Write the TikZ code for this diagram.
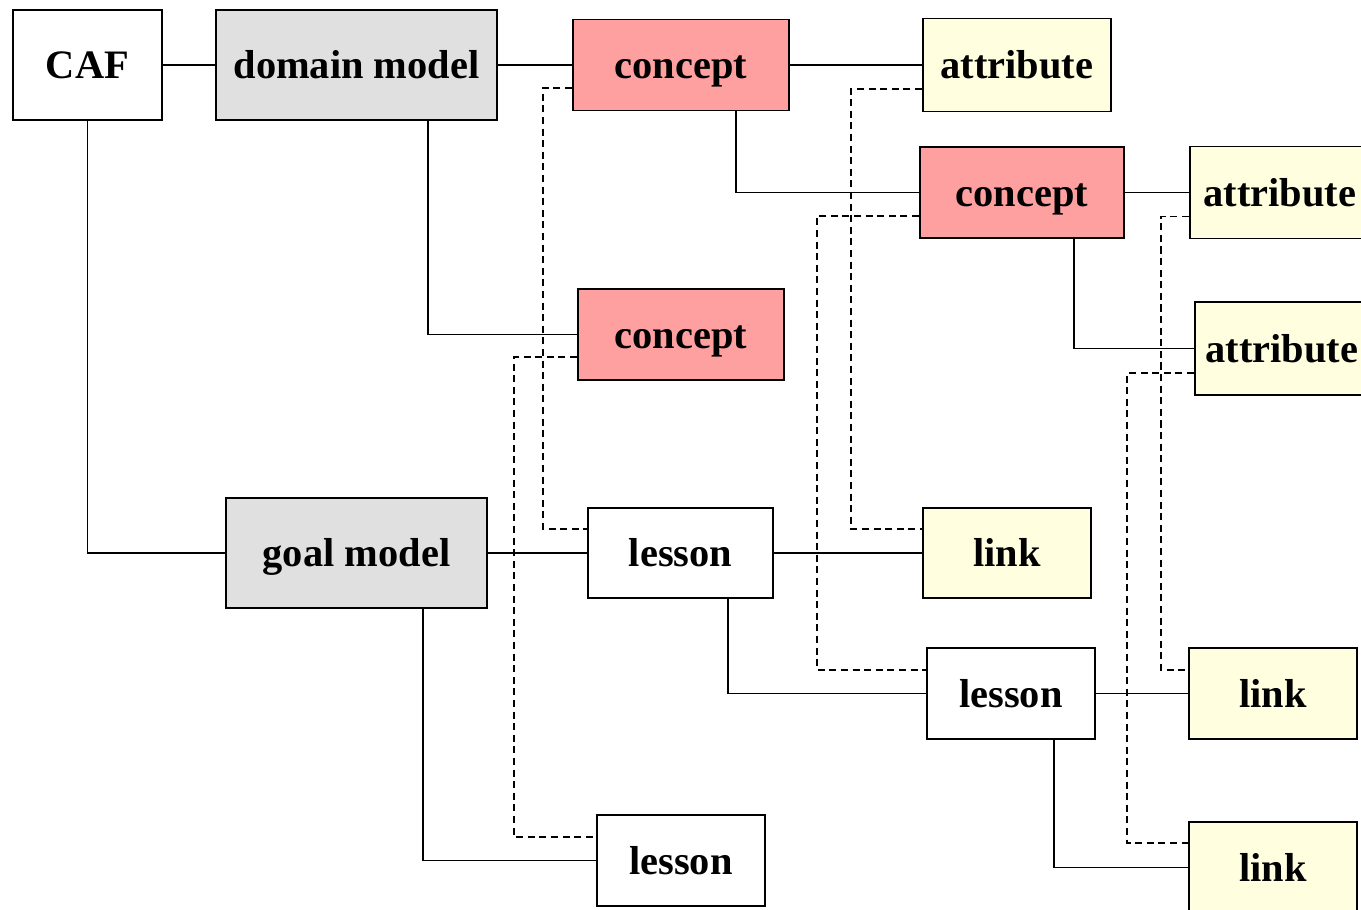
\documentclass[tikz,border=0pt]{standalone}
\usepackage{fontspec}
\setmainfont{Liberation Serif}
\usepackage{tikz}
\definecolor{ModelGray}{RGB}{224, 224, 224}
\definecolor{ConceptRed}{RGB}{255, 160, 160}
\definecolor{AttrYellow}{RGB}{255, 255, 224}
\tikzset{
	tie/.style  = {line width = 1.1pt},
	ref/.style  = {line width = 1pt, dash pattern = on 4pt off 2.6pt},
}

\begin{document}
\begin{tikzpicture}
                    \useasboundingbox (0, 0) rectangle (27.22, -18.18);

                    \coordinate (CAF)  at ( 1.75,  -1.30);
                    \coordinate (DM)   at ( 7.13,  -1.30);
                    \coordinate (GM)   at ( 7.13, -11.06);

                    \begin{scope}[
                        every node/.style = {
                            shape       = rectangle,
                            draw        = black,
                            line width  = 1.1pt,
                            inner sep   = 0pt,
                            text height = 15.5pt,
                            text depth  = 0pt,
                            font        = \fontsize{23}{27}\selectfont\bfseries,
                        }
                    ]
                        \node (caf)   at (CAF) [minimum width = 2.98cm, minimum height = 2.20cm] {CAF};
                        \node (dom)   at (DM)  [fill = ModelGray, minimum width = 5.62cm, minimum height = 2.20cm] {domain model};
                        \node (goal)  at (GM)  [fill = ModelGray, minimum width = 5.22cm, minimum height = 2.20cm] {goal model};

                        \node (con1)  at (13.62,  -1.30) [fill = ConceptRed, minimum width = 4.32cm, minimum height = 1.82cm] {concept};
                        \node (con2)  at (20.44,  -3.85) [fill = ConceptRed, minimum width = 4.08cm, minimum height = 1.82cm] {concept};
                        \node (con3)  at (13.62,  -6.69) [fill = ConceptRed, minimum width = 4.12cm, minimum height = 1.82cm] {concept};

                        \node (att1)  at (20.34,  -1.30) [fill = AttrYellow, minimum width = 3.76cm, minimum height = 1.86cm] {attribute};
                        \node (att2)  at (25.60,  -3.85) [fill = AttrYellow, minimum width = 3.60cm, minimum height = 1.84cm] {attribute};
                        \node (att3)  at (25.64,  -6.97) [fill = AttrYellow, minimum width = 3.48cm, minimum height = 1.86cm] {attribute};

                        \node (les1)  at (13.61, -11.06) [minimum width = 3.70cm, minimum height = 1.80cm] {lesson};
                        \node (les2)  at (20.22, -13.87) [minimum width = 3.36cm, minimum height = 1.82cm] {lesson};
                        \node (les3)  at (13.62, -17.21) [minimum width = 3.36cm, minimum height = 1.82cm] {lesson};

                        \node (link1) at (20.14, -11.06) [fill = AttrYellow, minimum width = 3.36cm, minimum height = 1.80cm] {link};
                        \node (link2) at (25.46, -13.87) [fill = AttrYellow, minimum width = 3.36cm, minimum height = 1.82cm] {link};
                        \node (link3) at (25.46, -17.35) [fill = AttrYellow, minimum width = 3.36cm, minimum height = 1.82cm] {link};
                    \end{scope}

                    \draw[tie] (caf.east) -- (dom.west);
                    \draw[tie] (dom.east) -- (con1.west);
                    \draw[tie] (con1.east) -- (att1.west);
                    \draw[tie] ([xshift = 1.10cm]con1.south) |- (con2.west);
                    \draw[tie] (con2.east) -- (att2.west);
                    \draw[tie] ([xshift = 1.04cm]con2.south) |- (att3.west);
                    \draw[tie] ([xshift = 1.43cm]dom.south) |- (con3.west);
                    \draw[tie] (caf.south) |- (goal.west);
                    \draw[tie] (goal.east) -- (les1.west);
                    \draw[tie] (les1.east) -- (link1.west);
                    \draw[tie] ([xshift = 0.95cm]les1.south) |- (les2.west);
                    \draw[tie] (les2.east) -- (link2.west);
                    \draw[tie] ([xshift = 0.86cm]les2.south) |- (link3.west);
                    \draw[tie] ([xshift = 1.33cm]goal.south) |- (les3.west);

                    \draw[ref] ([yshift = -0.46cm]con1.west) -| ([xshift = -0.88cm, yshift = 0.48cm]les1.west) -- ([yshift = 0.48cm]les1.west);
                    \draw[ref] ([yshift = -0.45cm]con3.west) -| ([xshift = -1.64cm, yshift = 0.47cm]les3.west) -- ([yshift = 0.47cm]les3.west);
                    \draw[ref] ([yshift = -0.48cm]att1.west) -| ([xshift = -1.42cm, yshift = 0.48cm]link1.west) -- ([yshift = 0.48cm]link1.west);
                    \draw[ref] ([yshift = -0.47cm]con2.west) -| ([xshift = -2.18cm, yshift = 0.47cm]les2.west) -- ([yshift = 0.47cm]les2.west);
                    \draw[ref] ([yshift = -0.48cm]att2.west) -| ([xshift = -0.54cm, yshift = 0.47cm]link2.west) -- ([yshift = 0.47cm]link2.west);
                    \draw[ref] ([yshift = -0.49cm]att3.west) -| ([xshift = -1.22cm, yshift = 0.49cm]link3.west) -- ([yshift = 0.49cm]link3.west);
                \end{tikzpicture}
\end{document}
